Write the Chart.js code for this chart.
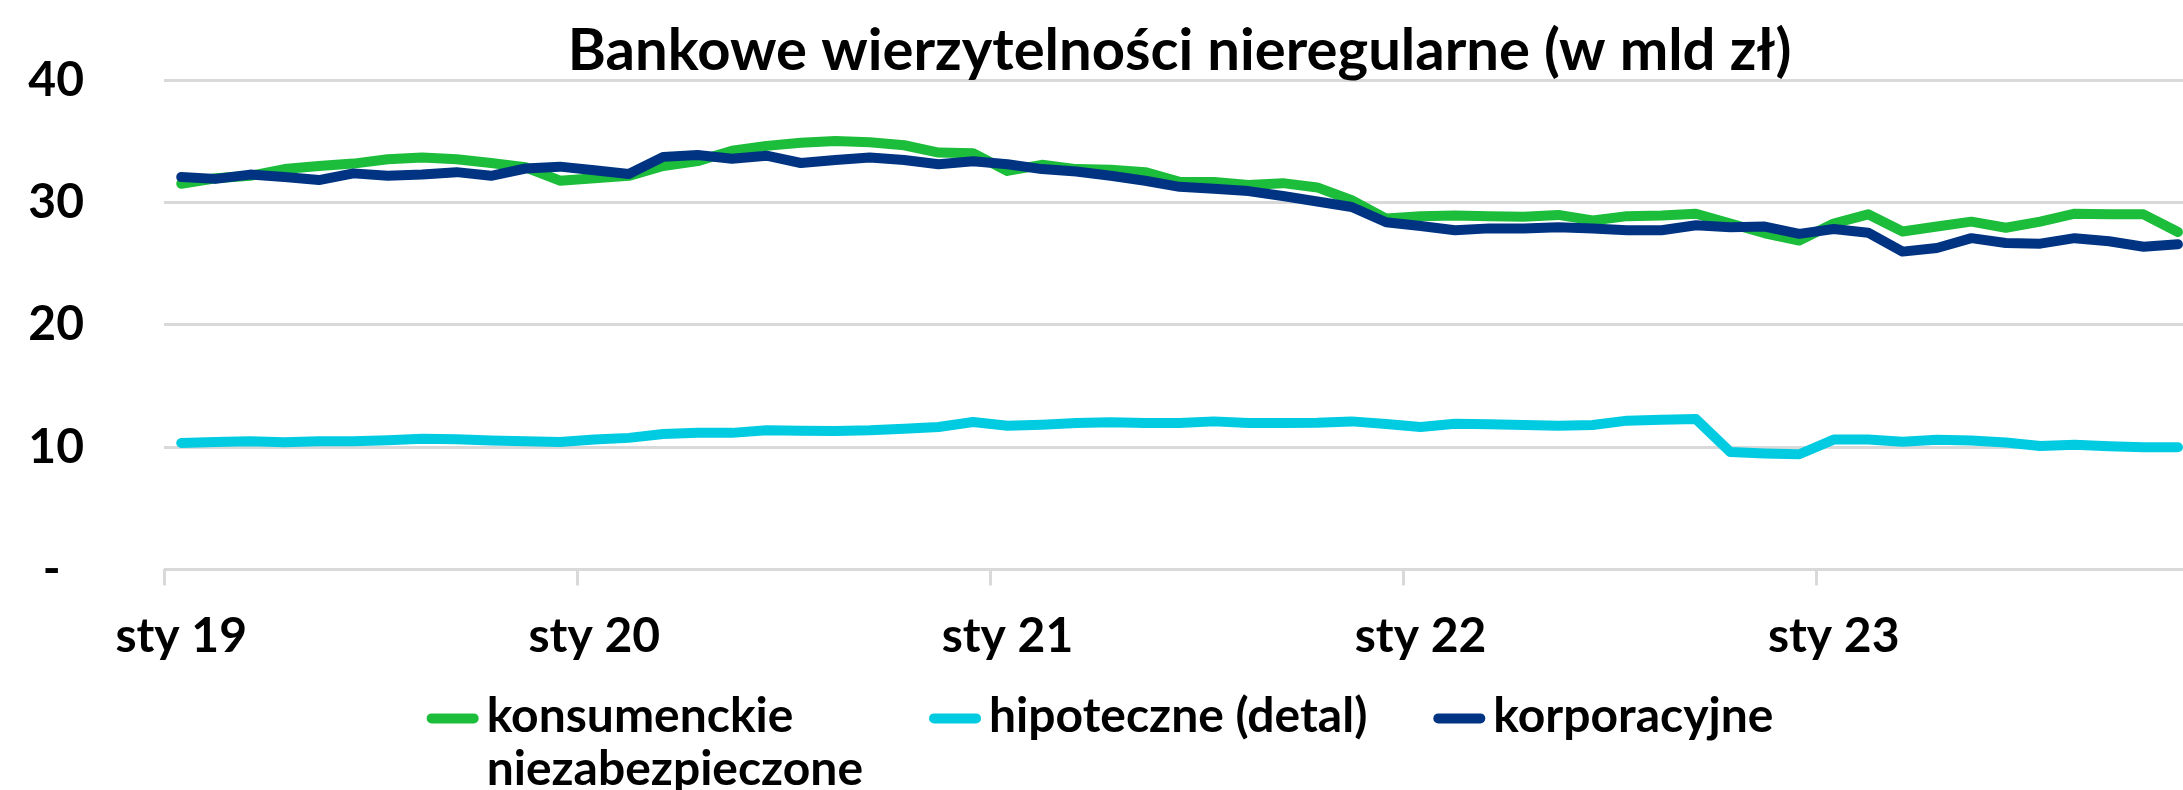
<!DOCTYPE html>
<html lang="pl">
<head>
<meta charset="utf-8">
<title>Bankowe wierzytelności nieregularne</title>
<script src="https://cdn.jsdelivr.net/npm/chart.js@4.4.1/dist/chart.umd.min.js"></script>
<style>
  html, body { margin: 0; padding: 0; background: #fff; overflow: hidden; }
  #wrap { width: 2200px; height: 790px; }
</style>
</head>
<body>
<div id="wrap"><canvas id="chart" width="2200" height="790"></canvas></div>
<script>
// months sty 19 .. lis 23
const monthNames = ['sty', 'lut', 'mar', 'kwi', 'maj', 'cze', 'lip', 'sie', 'wrz', 'paź', 'lis', 'gru'];
const years = ['19', '20', '21', '22', '23'];
const categories = [];
years.forEach(y => monthNames.forEach(m => categories.push(m + ' ' + y)));
categories.length = 59;

const yTicks = [0, 10, 20, 30, 40];

const seriesNames = ['konsumenckie niezabezpieczone', 'hipoteczne (detal)', 'korporacyjne'];
const legendLines = [['konsumenckie', 'niezabezpieczone'], ['hipoteczne (detal)'], ['korporacyjne']];
const seriesColors = ['#1bbd3a', '#00cbe1', '#003482'];

const konsumenckie = [
  31.55, 32.0, 32.2, 32.75, 33.0, 33.2, 33.55, 33.7, 33.55, 33.25, 32.9, 31.8,
  32.0, 32.2, 33.0, 33.4, 34.25, 34.65, 34.9, 35.05, 34.95, 34.7, 34.1, 34.05,
  32.6, 33.1, 32.75, 32.7, 32.5, 31.7, 31.7, 31.45, 31.6, 31.25, 30.2, 28.7,
  28.9, 28.95, 28.9, 28.85, 29.0, 28.55, 28.9, 28.95, 29.1, 28.3, 27.5, 26.9,
  28.3, 29.05, 27.65, 28.05, 28.45, 27.95, 28.45, 29.1, 29.05, 29.05, 27.6
];
const hipoteczne = [
  10.35, 10.43, 10.49, 10.4, 10.49, 10.49, 10.57, 10.68, 10.65, 10.54, 10.49, 10.43,
  10.62, 10.76, 11.08, 11.17, 11.17, 11.38, 11.35, 11.33, 11.38, 11.5, 11.65, 12.06,
  11.76, 11.84, 11.98, 12.03, 11.98, 11.98, 12.11, 11.98, 11.98, 12.0, 12.11, 11.9,
  11.65, 11.92, 11.87, 11.82, 11.76, 11.82, 12.17, 12.25, 12.3, 9.6, 9.48, 9.42,
  10.62, 10.62, 10.45, 10.6, 10.54, 10.38, 10.1, 10.2, 10.08, 10.0, 10.0
];
const korporacyjne = [
  32.1, 31.95, 32.3, 32.1, 31.85, 32.4, 32.2, 32.3, 32.5, 32.2, 32.8, 32.95,
  32.65, 32.35, 33.75, 33.9, 33.6, 33.85, 33.25, 33.5, 33.7, 33.5, 33.15, 33.4,
  33.15, 32.75, 32.55, 32.2, 31.8, 31.3, 31.15, 30.95, 30.55, 30.1, 29.65, 28.4,
  28.1, 27.75, 27.9, 27.9, 28.0, 27.9, 27.75, 27.75, 28.15, 28.0, 28.05, 27.45,
  27.85, 27.55, 26.0, 26.3, 27.1, 26.7, 26.65, 27.1, 26.85, 26.4, 26.6
];

const GRID = '#d9d9d9';
const FAMILY = 'Lato, "Noto Sans", sans-serif';
const FONT = { family: FAMILY, size: 48, weight: 'bold' };

// Excel-like legend under the axis, first label wrapped in two lines
const wrappedLegend = {
  id: 'wrappedLegend',
  afterDraw(chart) {
    const ctx = chart.ctx;
    const swatchW = 52, textGap = 8, itemGap = 66;
    const line1 = chart.chartArea.bottom + 147, lineH = 53;
    ctx.save();
    ctx.font = 'bold 48px ' + FAMILY;
    ctx.textBaseline = 'middle';
    ctx.textAlign = 'left';
    const widths = legendLines.map(lines => swatchW + textGap + Math.max(...lines.map(t => ctx.measureText(t).width)));
    const total = widths.reduce((a, b) => a + b, 0) + itemGap * (widths.length - 1);
    let x = chart.width / 2 - total / 2;
    legendLines.forEach((lines, i) => {
      ctx.strokeStyle = seriesColors[i];
      ctx.lineWidth = 10;
      ctx.lineCap = 'round';
      ctx.beginPath();
      ctx.moveTo(x + 5, line1 + 2);
      ctx.lineTo(x + swatchW - 5, line1 + 2);
      ctx.stroke();
      ctx.fillStyle = '#000';
      lines.forEach((t, j) => ctx.fillText(t, x + swatchW + textGap, line1 + j * lineH));
      x += widths[i] + itemGap;
    });
    ctx.restore();
  }
};

const series = [konsumenckie, hipoteczne, korporacyjne];

new Chart(document.getElementById('chart'), {
  type: 'line',
  data: {
    labels: categories,
    datasets: series.map((values, i) => ({
      label: seriesNames[i],
      data: values,
      borderColor: seriesColors[i],
      backgroundColor: seriesColors[i],
      borderWidth: 10,
      pointRadius: 0,
      tension: 0,
      borderCapStyle: 'round',
      borderJoinStyle: 'round',
      order: 3 - i
    }))
  },
  options: {
    responsive: false,
    animation: false,
    devicePixelRatio: 1,
    layout: { padding: { left: 0, right: 3, top: 0, bottom: 103 } },
    plugins: {
      legend: { display: false },
      tooltip: { enabled: false },
      title: {
        display: true,
        text: 'Bankowe wierzytelności nieregularne (w mld zł)',
        color: '#000',
        fullSize: false,
        font: { family: FAMILY, size: 58, weight: 'bold', lineHeight: 1 },
        padding: { top: 20, bottom: 0 }
      }
    },
    scales: {
      x: {
        type: 'category',
        offset: true,
        border: { display: false },
        grid: {
          offset: true,
          drawOnChartArea: false,
          drawTicks: true,
          tickLength: 16,
          lineWidth: 3,
          color: c => (c.index % 12 === 0 ? GRID : 'rgba(0,0,0,0)')
        },
        ticks: {
          autoSkip: false,
          maxRotation: 0,
          padding: 22,
          color: '#000',
          font: FONT,
          callback: function (v, i) { return i % 12 === 0 ? this.getLabelForValue(v) : ''; }
        }
      },
      y: {
        min: yTicks[0],
        max: yTicks[yTicks.length - 1],
        border: { display: false },
        afterFit: s => { s.width = 164; },
        afterBuildTicks: s => { s.ticks = yTicks.map(v => ({ value: v })); },
        grid: { color: GRID, lineWidth: 3, drawTicks: false },
        ticks: {
          padding: 80,
          color: '#000',
          font: { family: FAMILY, size: 48, weight: 'bold', lineHeight: 0.02 },
          callback: v => (v === 0 ? '-  ' : String(v))
        }
      }
    }
  },
  plugins: [wrappedLegend]
});
</script>
</body>
</html>
